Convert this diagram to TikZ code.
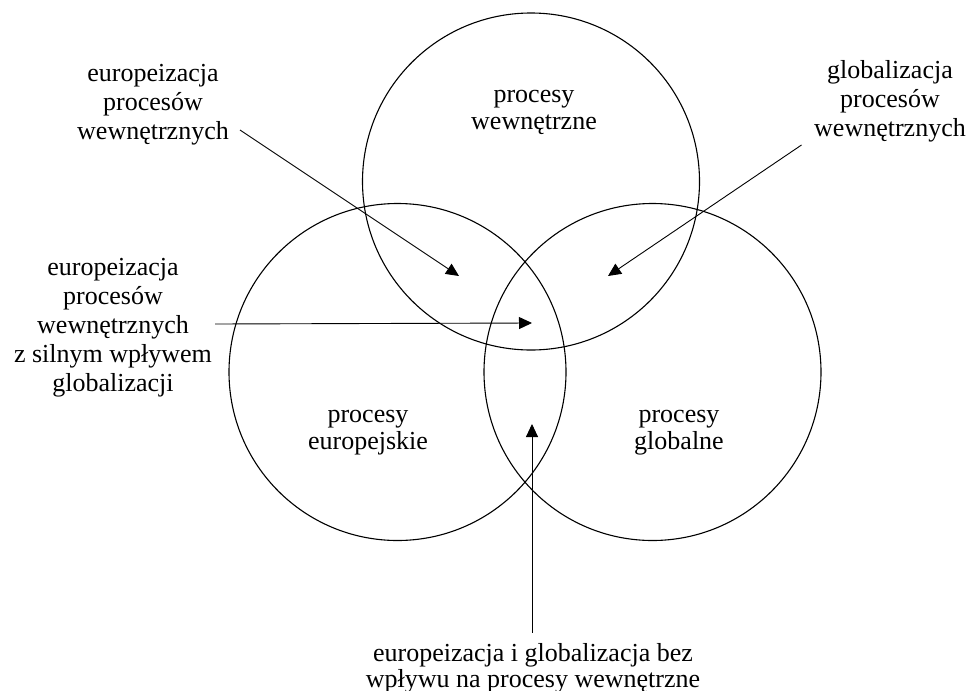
\documentclass[tikz,border=0pt]{standalone}
\usepackage{fontspec}
\setmainfont{Liberation Serif}
\usetikzlibrary{arrows.meta,calc}
\begin{document}
\begin{tikzpicture}[x=1pt,y=-1pt,
  ring/.style={circle,draw,line width=1.1pt,minimum size=337pt,inner sep=0pt},
  lbl/.style={align=center,inner sep=0pt,font=\fontsize{26}{29}\selectfont},
  inlbl/.style={align=center,inner sep=0pt,font=\fontsize{26}{27}\selectfont},
  arr/.style={line width=0.9pt,-{Triangle[length=13pt,width=12pt]}}]
\useasboundingbox (0,0) rectangle (970,691);
% circles
\node[ring] (cw) at (531,181.5) {};
\node[ring] (ce) at (397.5,372) {};
\node[ring] (cg) at (652.5,372) {};
% circle labels
\node[inlbl] (tw) at (534,112) {procesy\\wewnętrzne};
\node[inlbl] (te) at (368,432.5) {procesy\\europejskie};
\node[inlbl] (tg) at (679,432.5) {procesy\\globalne};
% outer labels
\node[lbl] (l1) at (153,104.5) {europeizacja\\procesów\\wewnętrznych};
\node[lbl] (l2) at (890,101.5) {globalizacja\\procesów\\wewnętrznych};
\node[lbl] (l3) at (113,328) {europeizacja\\procesów\\wewnętrznych\\z silnym wpływem\\globalizacji};
\node[lbl,font=\fontsize{26}{26}\selectfont] (l4) at (533,668) {europeizacja i globalizacja bez\\wpływu na procesy wewnętrzne};
% arrow tips
\coordinate (t1) at (459,276);
\coordinate (t2) at (608,276);
\coordinate (t3) at (532,323);
\coordinate (t4) at (532,424);
% arrows
\draw[arr] ($(l1.east)+(11,25.5)$) -- (t1);
\draw[arr] ($(l2.west)+(-12.5,43.5)$) -- (t2);
\draw[arr] ($(l3.east)+(3,-4)$) -- (t3);
\draw[arr] ($(l4.north)+(-1,-10)$) -- (t4);
\end{tikzpicture}
\end{document}
